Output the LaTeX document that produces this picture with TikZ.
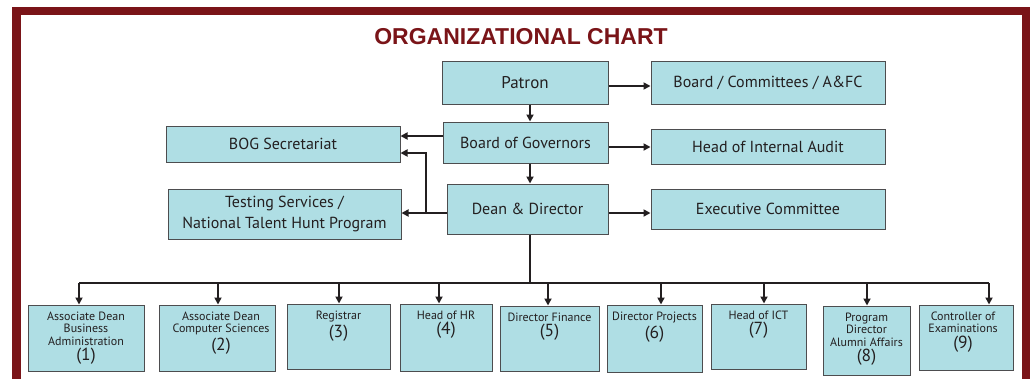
\documentclass[tikz,border=0pt]{standalone}
\usepackage{fontspec}
\setmainfont{PT Sans}
\newfontfamily\titlefont{Liberation Sans}
\usetikzlibrary{arrows.meta,calc}
\definecolor{frame}{HTML}{7A1418}
\definecolor{boxfill}{HTML}{AFDEE4}
\definecolor{boxline}{HTML}{4D4D4F}
\definecolor{ink}{HTML}{231F20}
% larger unit number set below the title lines of a lower box
\newcommand\unitno[1]{\\[2pt]{\fontsize{17.5}{17}\selectfont(#1)}}
\begin{document}
\begin{tikzpicture}[x=1pt,y=-1pt,
  box/.style={draw=boxline, line width=1pt, fill=boxfill, inner sep=0pt,
    text=ink, font=\fontsize{16}{21}\selectfont, align=center},
  sbox/.style={draw=boxline, line width=1pt, fill=boxfill, inner sep=0pt},
  stext/.style={anchor=north, inner sep=0pt, text=ink, align=center,
    font=\fontsize{12}{12.5}\selectfont},
  arr/.style={draw=ink, line width=1.7pt, -{Triangle[length=7pt,width=7pt]}},
  link/.style={draw=ink, line width=1.7pt}]
\clip (0,0) rectangle (1030,378);
\fill[white] (0,0) rectangle (1030,378);
% outer frame
\draw[frame, line width=8.5pt] (16.5,11) rectangle (1026,400);
\node[font=\titlefont\bfseries\fontsize{23}{23}\selectfont, text=frame,
  anchor=base, inner sep=0pt] (title) at (521,44) {ORGANIZATIONAL CHART};

% upper boxes
\node[box, font=\fontsize{17}{21}\selectfont, minimum width=166pt, minimum height=43pt] (patron) at (525,82.5) {Patron};
\node[box, minimum width=234pt, minimum height=43pt] (board) at (768,82.5) {Board / Committees / A\&FC};
\node[box, minimum width=165pt, minimum height=41pt] (bog) at (525.5,142.5) {Board of Governors};
\node[box, minimum width=234pt, minimum height=35pt] (audit) at (768,146.5) {Head of Internal Audit};
\node[box, minimum width=161pt, minimum height=50pt] (dean) at (527.5,209) {Dean \& Director};
\node[box, minimum width=234pt, minimum height=40pt] (exec) at (768,209) {Executive Committee};
\node[box, minimum width=234pt, minimum height=36pt] (sec) at (283,144) {BOG Secretariat};
\node[box, minimum width=233pt, minimum height=50pt] (test) at (284.5,214) {Testing Services /\\National Talent Hunt Program};

% lower boxes
\node[sbox, minimum width=116pt, minimum height=66pt] (b1) at (86,338) {};
\node[sbox, minimum width=116pt, minimum height=66pt] (b2) at (217,338) {};
\node[sbox, minimum width=103pt, minimum height=65pt] (b3) at (338.5,336.5) {};
\node[sbox, minimum width=92pt, minimum height=67pt] (b4) at (446,337.5) {};
\node[sbox, minimum width=99pt, minimum height=65pt] (b5) at (549.5,338.5) {};
\node[sbox, minimum width=95pt, minimum height=67pt] (b6) at (654.5,338.5) {};
\node[sbox, minimum width=95pt, minimum height=65pt] (b7) at (758.5,336.5) {};
\node[sbox, minimum width=87pt, minimum height=69pt] (b8) at (866.5,340.5) {};
\node[sbox, minimum width=94pt, minimum height=65pt] (b9) at (966,337.5) {};

\node[stext] (t1) at ([yshift=-7pt]b1.north) {Associate Dean\\Business\\Administration\unitno{1}};
\node[stext] (t2) at ([xshift=4pt,yshift=-7pt]b2.north) {Associate Dean\\Computer Sciences\unitno{2}};
\node[stext] (t3) at ([yshift=-7pt]b3.north) {Registrar\unitno{3}};
\node[stext] (t4) at ([yshift=-7pt]b4.north) {Head of HR\unitno{4}};
\node[stext] (t5) at ([yshift=-7pt]b5.north) {Director Finance\unitno{5}};
\node[stext] (t6) at ([yshift=-7pt]b6.north) {Director Projects\unitno{6}};
\node[stext] (t7) at ([yshift=-7pt]b7.north) {Head of ICT\unitno{7}};
\node[stext] (t8) at ([yshift=-7pt]b8.north) {Program\\Director\\Alumni Affairs\unitno{8}};
\node[stext] (t9) at ([xshift=-3pt,yshift=-7pt]b9.north) {Controller of\\Examinations\unitno{9}};

% connectors
\coordinate (spine) at (530,0);
\coordinate (j) at (426,213);
\coordinate (bus) at (530,283);
\draw[arr] ([yshift=-3.5pt]patron.east) -- ([yshift=-3.5pt]patron.east -| board.west);
\draw[arr] (patron.south -| spine) -- (bog.north -| spine);
\draw[arr] ([yshift=-0.5pt]bog.east |- audit.west) -- ([yshift=-0.5pt]audit.west);
\draw[arr] (bog.south -| spine) -- (dean.north -| spine);
\draw[arr] ([yshift=-4pt]dean.east) -- ([yshift=-4pt]dean.east -| exec.west);
\draw[arr] ([yshift=6.5pt]bog.west) -- ([yshift=6.5pt]bog.west -| sec.east);
\draw[arr] ([yshift=-4pt]dean.west) -- ([yshift=-4pt]dean.west -| test.east);
\draw[arr] (j) |- ([yshift=-9pt]sec.east);
\draw[link] (dean.south -| spine) -- (bus);
\draw[link] (79,283) -- (989,283);
\foreach \i/\ax in {1/79,2/218,3/339,4/439,5/548,6/661,7/764,8/867,9/989}{
  \coordinate (a\i) at (\ax,283);
  \draw[arr] (a\i) -- (a\i |- b\i.north);
}
\end{tikzpicture}
\end{document}
